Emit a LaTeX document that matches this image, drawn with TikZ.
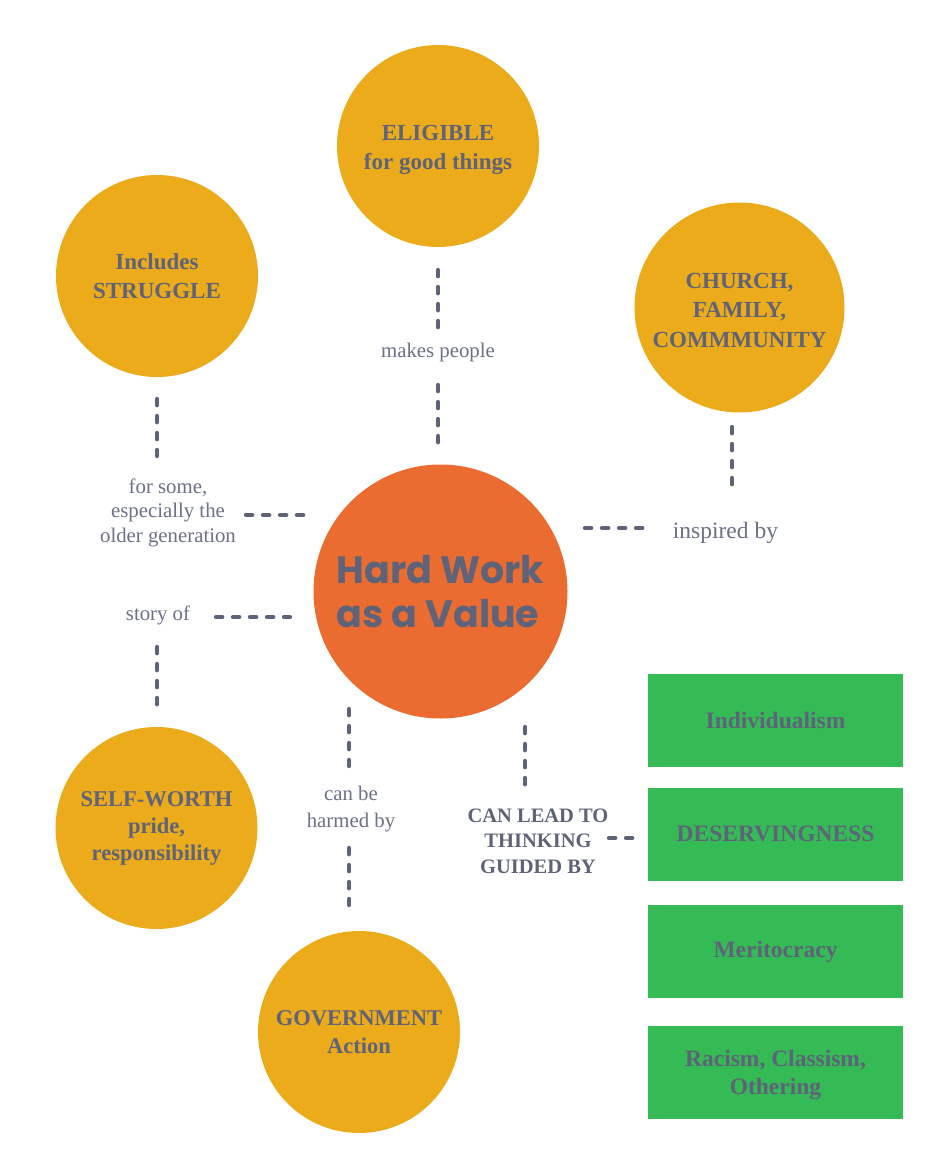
\documentclass[tikz,border=0pt]{standalone}
\usepackage{fontspec}
\setmainfont{LiberationSerif-Regular.ttf}[BoldFont=LiberationSerif-Bold.ttf]
\newfontfamily\popfont{Poppins}
\definecolor{gold}{HTML}{EBAB1A}
\definecolor{orangec}{HTML}{EA6C30}
\definecolor{greenc}{HTML}{35BB55}
\definecolor{slate}{HTML}{5E6379}
\definecolor{labelc}{HTML}{6C7088}
\begin{document}
\begin{tikzpicture}[x=1pt,y=-1pt,
  btext/.style={text=slate, font=\bfseries\fontsize{23}{29.5}\selectfont, align=center, inner sep=0pt},
  bubble/.style={circle, fill=gold, minimum size=202pt, inner sep=0pt, btext},
  core/.style={circle, fill=orangec, minimum size=254pt, inner sep=0pt, text=slate,
    font=\popfont\bfseries\fontsize{38}{44}\selectfont, align=left},
  box/.style={rectangle, fill=greenc, minimum width=255pt, minimum height=93pt, inner sep=0pt,
    text=slate, font=\bfseries\fontsize{23.5}{28}\selectfont, align=center},
  lbl/.style={text=labelc, font=\fontsize{20.8}{24.5}\selectfont, align=center, inner sep=0pt},
  blbl/.style={text=slate, font=\bfseries\fontsize{20.5}{25.5}\selectfont, align=center, inner sep=0pt},
  link/.style={draw=slate, line width=4.3pt, line cap=round, dash pattern=on 6.3pt off 10.7pt}]
\useasboundingbox (0,0) rectangle (945,1167);

% main nodes
\node[core] (hw) at (440.5,591.5) {Hard Work\\as a Value};
\node[bubble, label={[btext, yshift=-4pt]center:{ELIGIBLE\\for good things}}] (elig) at (438,146) {};
\node[bubble] (strug) at (157,276) {Includes\\STRUGGLE};
\node[bubble, minimum size=210pt, label={[btext, yshift=-2.5pt]center:{CHURCH,\\FAMILY,\\COMMMUNITY}}] (church) at (739.5,307.5) {};
\node[bubble, font=\bfseries\fontsize{22.5}{27}\selectfont] (self) at (156.5,828) {SELF-WORTH\\pride,\\responsibility};
\node[bubble, font=\bfseries\fontsize{22.5}{28}\selectfont] (gov) at (359,1032) {GOVERNMENT\\Action};

\node[box] (ind) at (775.5,720) {Individualism};
\node[box] (des) at (775.5,834) {DESERVINGNESS};
\node[box] (mer) at (775.5,951.5) {Meritocracy};
\node[box, label={[text=slate, font=\bfseries\fontsize{23.5}{28}\selectfont, align=center, inner sep=0pt, yshift=-3pt]center:{Racism, Classism,\\Othering}}] (rac) at (775.5,1072) {};

% labels
\node[lbl, anchor=base] (makes) at (438,357) {makes people};
\node[lbl] (some) at (168,512.5) {for some,\\especially the\\older generation};
\node[lbl, anchor=base, font=\fontsize{23.5}{28}\selectfont] (insp) at (725.5,538) {inspired by};
\node[lbl, anchor=base] (story) at (158,620) {story of};
\node[lbl, font=\fontsize{20.8}{26.5}\selectfont] (harm) at (351,809) {can be\\harmed by};
\node[blbl] (lead) at (538,841) {CAN LEAD TO\\THINKING\\GUIDED BY};

% connector end points
\coordinate (e1a) at (438,270); \coordinate (e1b) at (438,329);
\coordinate (e2a) at (438,385); \coordinate (e2b) at (438,445);
\coordinate (s1a) at (157,399); \coordinate (s1b) at (157,456);
\coordinate (s2a) at (246,515); \coordinate (s2b) at (305,515);
\coordinate (c1a) at (732,427); \coordinate (c1b) at (732,485);
\coordinate (c2a) at (585,528); \coordinate (c2b) at (645,528);
\coordinate (t1a) at (216,617); \coordinate (t1b) at (290,617);
\coordinate (t2a) at (157,647); \coordinate (t2b) at (157,705);
\coordinate (h1a) at (349,709); \coordinate (h1b) at (349,766);
\coordinate (h2a) at (349,848); \coordinate (h2b) at (349,905);
\coordinate (l1a) at (525,727); \coordinate (l1b) at (525,785);
\coordinate (l2a) at (609,838); \coordinate (l2b) at (634,838);

\draw[link] (e1a) -- (e1b);
\draw[link] (e2a) -- (e2b);
\draw[link] (s1a) -- (s1b);
\draw[link] (s2a) -- (s2b);
\draw[link] (c1a) -- (c1b);
\draw[link] (c2a) -- (c2b);
\draw[link] (t1a) -- (t1b);
\draw[link] (t2a) -- (t2b);
\draw[link] (h1a) -- (h1b);
\draw[link] (h2a) -- (h2b);
\draw[link] (l1a) -- (l1b);
\draw[link] (l2a) -- (l2b);
\end{tikzpicture}
\end{document}
